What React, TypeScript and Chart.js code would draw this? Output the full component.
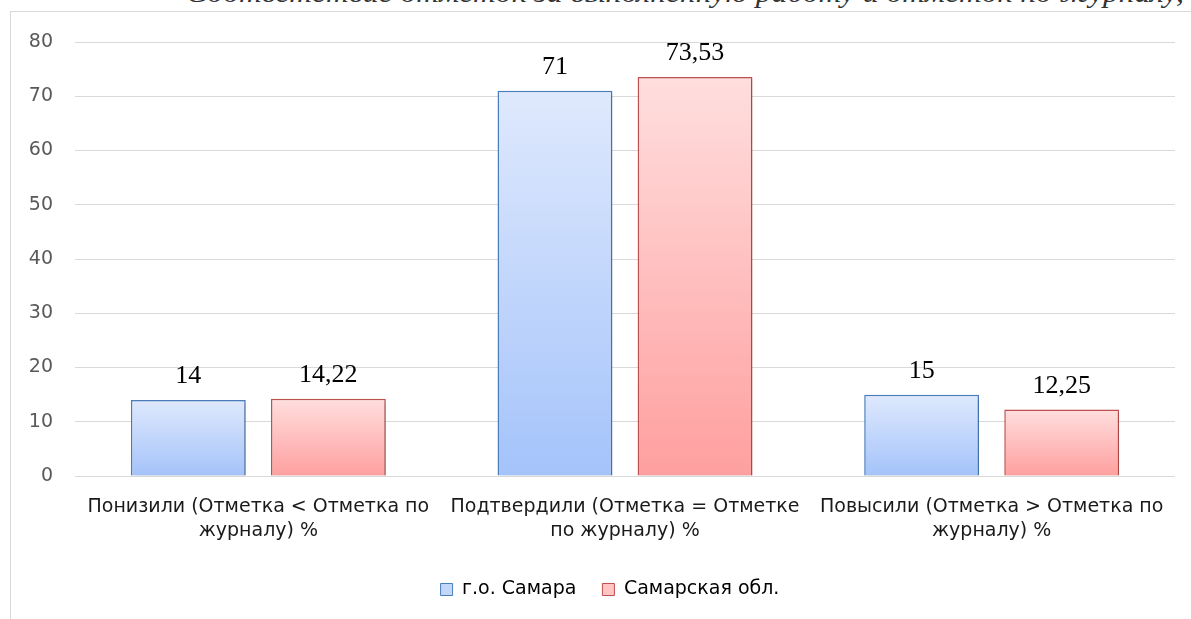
import React, { useEffect, useRef } from "react";
import { Chart, registerables } from "chart.js";

Chart.register(...registerables);

const categories: string[][] = [
  ["Понизили (Отметка < Отметка по", "журналу) %"],
  ["Подтвердили (Отметка = Отметке", "по журналу) %"],
  ["Повысили (Отметка > Отметка по", "журналу) %"],
];
const seriesNames = ["г.о. Самара", "Самарская обл."];
const samaraCity = [14, 71, 15];
const samaraRegion = [14.22, 73.53, 12.25];
const yMin = 0;
const yMax = 80;
const yStep = 10;
const captionText = "Соответствие отметок за выполненную работу и отметок по журналу,";

const fmt = (v: number) => String(v).replace(".", ",");
const SANS = "'DejaVu Sans', 'Open Sans', sans-serif";

function gradientFill(top: string, bottom: string) {
  return (ctx: any) => {
    const chart = ctx.chart;
    const { chartArea, scales } = chart;
    if (!chartArea || !scales || !scales.y || ctx.type !== "data") return bottom;
    const v = ctx.raw as number;
    const y0 = scales.y.getPixelForValue(0);
    const y1 = scales.y.getPixelForValue(v);
    if (!isFinite(y0) || !isFinite(y1) || y0 === y1) return bottom;
    const g = chart.ctx.createLinearGradient(0, y1, 0, y0);
    g.addColorStop(0, top);
    g.addColorStop(1, bottom);
    return g;
  };
}

const shadowPlugin = {
  id: "barShadow",
  beforeDatasetsDraw(chart: any) {
    const c = chart.ctx;
    c.save();
    c.shadowColor = "rgba(0,0,0,0.22)";
    c.shadowBlur = 3;
    c.shadowOffsetX = 1.5;
    c.shadowOffsetY = 1.5;
  },
  afterDatasetsDraw(chart: any) {
    chart.ctx.restore();
  },
};

const legendShiftPlugin = {
  id: "legendShift",
  afterLayout(chart: any) {
    if (chart.legend) {
      chart.legend.left += 17;
      chart.legend.right += 17;
    }
  },
};

const valueLabelPlugin = {
  id: "valueLabels",
  afterDatasetsDraw(chart: any) {
    const c = chart.ctx;
    c.save();
    c.font = "26px 'Liberation Serif', 'Times New Roman', serif";
    c.fillStyle = "#000000";
    c.textAlign = "center";
    c.textBaseline = "alphabetic";
    chart.data.datasets.forEach((ds: any, i: number) => {
      const meta = chart.getDatasetMeta(i);
      meta.data.forEach((el: any, j: number) => {
        c.fillText(fmt(ds.data[j]), el.x, el.y - 17);
      });
    });
    c.restore();
  },
};

export default function App() {
  const ref = useRef<HTMLCanvasElement | null>(null);

  useEffect(() => {
    if (!ref.current) return;
    const chart = new Chart(ref.current, {
      type: "bar",
      data: {
        labels: categories,
        datasets: [
          {
            label: seriesNames[0],
            data: samaraCity,
            backgroundColor: gradientFill("#dfe9fd", "#a4c3fa"),
            borderColor: "#4a7ebb",
            borderWidth: 1.5,
            categoryPercentage: 0.764,
            barPercentage: 0.82,
          },
          {
            label: seriesNames[1],
            data: samaraRegion,
            backgroundColor: gradientFill("#ffdede", "#ff9f9f"),
            borderColor: "#c0504d",
            borderWidth: 1.5,
            categoryPercentage: 0.764,
            barPercentage: 0.82,
          },
        ],
      },
      options: {
        animation: false,
        responsive: true,
        maintainAspectRatio: false,
        layout: { padding: { top: 30, right: 16, left: 0, bottom: 10 } },
        scales: {
          x: {
            grid: { display: false },
            border: { display: false },
            ticks: {
              color: "#1a1a1a",
              font: { family: SANS, size: 19, lineHeight: "24px" },
              maxRotation: 0,
              autoSkip: false,
              padding: 11,
            },
          },
          y: {
            min: yMin,
            max: yMax,
            grid: { color: "#d9d9d9", lineWidth: 1, drawTicks: false },
            border: { display: false },
            ticks: {
              stepSize: yStep,
              color: "#595959",
              font: { family: SANS, size: 19 },
              padding: 22,
            },
            afterFit(scale: any) {
              scale.width = 64;
              scale.paddingTop = 0;
              scale.paddingBottom = 0;
            },
          },
        },
        plugins: {
          legend: {
            position: "bottom",
            labels: {
              color: "#262626",
              font: { family: SANS, size: 19 },
              boxWidth: 12,
              boxHeight: 12,
              padding: 26,
              generateLabels: () => [
                { text: seriesNames[0], fillStyle: "#c3d7fb", strokeStyle: "#4a7ebb", lineWidth: 1, datasetIndex: 0, hidden: false },
                { text: seriesNames[1], fillStyle: "#ffc4c4", strokeStyle: "#c0504d", lineWidth: 1, datasetIndex: 1, hidden: false },
              ] as any,
            },
          },
          tooltip: { enabled: false },
        },
      } as any,
      plugins: [shadowPlugin, valueLabelPlugin, legendShiftPlugin],
    });
    return () => chart.destroy();
  }, []);

  return (
    <div style={{ position: "absolute", left: 0, top: 0, width: 1191, height: 619, overflow: "hidden", background: "#ffffff" }}>
      <svg width={1191} height={12} style={{ position: "absolute", left: 0, top: 0 }}>
        <text
          x={186}
          y={2}
          textLength={998}
          lengthAdjust="spacingAndGlyphs"
          fontFamily="'Liberation Serif', 'Times New Roman', serif"
          fontStyle="italic"
          fontSize={28}
          fill="#333"
        >
          {captionText}
        </text>
      </svg>
      <div
        style={{
          position: "absolute",
          left: 10,
          top: 11,
          width: 1200,
          height: 640,
          border: "1px solid #d9d9d9",
          boxSizing: "border-box",
        }}
      />
      <div style={{ position: "absolute", left: 11, top: 12, width: 1180, height: 607 }}>
        <canvas ref={ref} />
      </div>
    </div>
  );
}
